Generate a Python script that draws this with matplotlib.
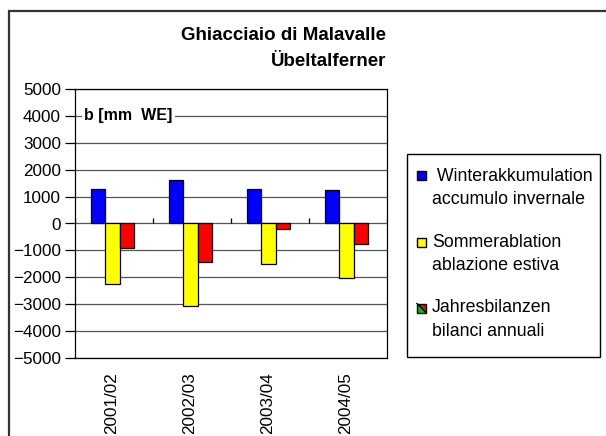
import matplotlib.pyplot as plt
import numpy as np
from matplotlib.patches import Rectangle, Polygon

plt.rcParams['font.family'] = ['Liberation Sans', 'DejaVu Sans']

# mass balance per hydrological year, mm water equivalent
years = ["2001/02", "2002/03", "2003/04", "2004/05"]
winter = [1300, 1600, 1300, 1230]
summer = [-2260, -3080, -1500, -2010]
annual = [-900, -1440, -210, -770]

series_labels = [" Winterakkumulation\naccumulo invernale",
                 "Sommerablation\nablazione estiva",
                 "Jahresbilanzen\nbilanci annuali"]
colors = ["#0000ff", "#ffff00", "#ff0000"]

W, H = 606, 436
fig = plt.figure(figsize=(W / 100, H / 100), dpi=100)


def fx(px):
    return px / W


def fy(py):
    return 1 - py / H


# outer chart frame (only left and top edges show)
fig.patches.append(Rectangle((fx(9), fy(440)), fx(620) - fx(9), fy(11) - fy(440),
                             transform=fig.transFigure, fill=False,
                             edgecolor="#333333", linewidth=1.6))

ax = fig.add_axes([fx(75), fy(358), fx(387) - fx(75), fy(89) - fy(358)])

x = np.arange(len(years))
w = 0.182
for i, (vals, c) in enumerate(zip([winter, summer, annual], colors)):
    ax.bar(x + (i - 1) * w - 0.02, vals, width=w, color=c, edgecolor="black",
           linewidth=0.9, zorder=3)

ax.set_xlim(-0.5, len(years) - 0.5)
ax.set_ylim(-5000, 5000)
ax.set_yticks(np.arange(-5000, 5001, 1000))
ax.yaxis.grid(True, color="#555555", linewidth=0.9, zorder=0)
ax.tick_params(axis="y", direction="out", length=7, width=0.9, pad=3,
               labelsize=12.3)
for s in ax.spines.values():
    s.set_color("black")
    s.set_linewidth(0.9)

ax.set_xticks(x - 0.03)
ax.set_xticklabels(years, rotation=90, fontsize=12.3)
ax.tick_params(axis="x", length=0, pad=10)

# category boundary ticks on the zero line
bounds = np.arange(len(years) + 1) - 0.5
ax.vlines(bounds, 0, 200, color="black", linewidth=0.9, zorder=4)

ax.text(0.03, 4000, "b [mm  WE]", transform=ax.get_yaxis_transform(),
        fontsize=11.5, fontweight="bold", va="center", ha="left", zorder=5,
        bbox=dict(facecolor="white", edgecolor="none", pad=2))

fig.text(fx(386), fy(35), "Ghiacciaio di Malavalle", ha="right", va="center",
         fontsize=13.5, fontweight="bold")
fig.text(fx(386), fy(62), "Übeltalferner", ha="right", va="center",
         fontsize=13.5, fontweight="bold")

# legend box
fig.patches.append(Rectangle((fx(407), fy(357)), fx(600) - fx(407), fy(154) - fy(357),
                             transform=fig.transFigure, facecolor="white",
                             edgecolor="black", linewidth=1.0))
rows = [176, 242, 308]
sq = 9
for k, (lab, c) in enumerate(zip(series_labels, colors)):
    cy = rows[k]
    x0, y0 = 417, cy - sq / 2
    if k < 2:
        fig.patches.append(Rectangle((fx(x0), fy(y0 + sq)), fx(sq), sq / H,
                                     transform=fig.transFigure, facecolor=c,
                                     edgecolor="black", linewidth=1.0))
    else:
        # split swatch: red upper-right, green lower-left
        ur = [(fx(x0), fy(y0)), (fx(x0 + sq), fy(y0)), (fx(x0 + sq), fy(y0 + sq))]
        ll = [(fx(x0), fy(y0)), (fx(x0), fy(y0 + sq)), (fx(x0 + sq), fy(y0 + sq))]
        fig.patches.append(Polygon(ur, closed=True, transform=fig.transFigure,
                                   facecolor="#ff0000", edgecolor="none"))
        fig.patches.append(Polygon(ll, closed=True, transform=fig.transFigure,
                                   facecolor="#00c000", edgecolor="none"))
        fig.lines.append(plt.Line2D([fx(x0), fx(x0 + sq)], [fy(y0), fy(y0 + sq)],
                                    transform=fig.transFigure, color="black",
                                    linewidth=1.0))
        fig.patches.append(Rectangle((fx(x0), fy(y0 + sq)), fx(sq), sq / H,
                                     transform=fig.transFigure, fill=False,
                                     edgecolor="black", linewidth=1.0))
    top, bottom = lab.split("\n")
    fig.text(fx(432), fy(cy), top, ha="left", va="center", fontsize=12.8)
    fig.text(fx(432), fy(cy + 23), bottom, ha="left", va="center", fontsize=12.8)

fig.savefig("out.png", dpi=100)
